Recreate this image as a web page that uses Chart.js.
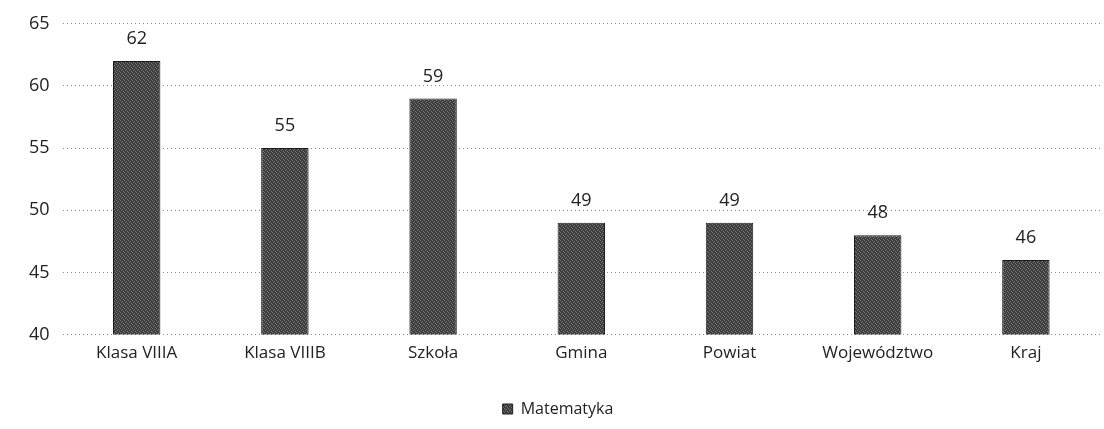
<!DOCTYPE html>
<html>
<head>
<meta charset="utf-8">
<script src="https://cdn.jsdelivr.net/npm/chart.js@4.4.1/dist/chart.umd.min.js"></script>
<style>
  html, body { margin: 0; padding: 0; background: #fff; }
  #wrap { width: 1104px; height: 429px; }
</style>
</head>
<body>
<div id="wrap"><canvas id="chart"></canvas></div>
<script>
// data
const categories = ['Klasa VIIIA', 'Klasa VIIIB', 'Szkoła', 'Gmina', 'Powiat', 'Województwo', 'Kraj'];
const matematyka = [62, 55, 59, 49, 49, 48, 46];
const seriesName = 'Matematyka';

const FONT = '"Open Sans", sans-serif';

//small hatched tile so the bars look like the printed grey fill
function barPattern() {
    const c = document.createElement('canvas');
    c.width = 4;
    c.height = 4;
    const p = c.getContext('2d');
    p.fillStyle = '#3c3c3c';
    p.fillRect(0, 0, 4, 4);
    p.fillStyle = '#7a7a7a';
    p.fillRect(0, 0, 1, 1);
    p.fillRect(2, 1, 1, 1);
    p.fillRect(1, 2, 1, 1);
    p.fillRect(3, 3, 1, 1);
    return p.createPattern(c, 'repeat');
}

//writes the value above each bar
const valueLabels = {
    id: 'valueLabels',
    afterDatasetsDraw(chart) {
        const ctx = chart.ctx;
        ctx.save();
        ctx.font = '18px ' + FONT;
        ctx.fillStyle = '#222';
        ctx.textAlign = 'center';
        ctx.textBaseline = 'bottom';
        chart.getDatasetMeta(0).data.forEach((bar, i) => {
            ctx.fillText(matematyka[i], bar.x, bar.y - 13);
        });
        ctx.restore();
    }
};

const ctx = document.querySelector('#chart').getContext('2d');
const chart = new Chart(ctx, {
    type: 'bar',
    data: {
        labels: categories,
        datasets: [{
            label: seriesName,
            data: matematyka,
            backgroundColor: barPattern(),
            borderColor: '#1e1e1e',
            borderWidth: 1,
            barPercentage: 0.32,
            categoryPercentage: 1
        }]
    },
    options: {
        responsive: true,
        maintainAspectRatio: false,
        animation: false,
        layout: { padding: { left: 16, right: 4, top: 12, bottom: 2 } },
        scales: {
            x: {
                grid: { display: false },
                border: { display: false },
                ticks: { color: '#222', font: { family: FONT, size: 17 }, padding: 0 },
                afterFit(scale) { scale.height += 16; }
            },
            y: {
                min: 40,
                max: 65,
                ticks: { stepSize: 5, color: '#222', font: { family: FONT, size: 18 }, padding: 13 },
                border: { display: false, dash: [1, 3] },
                grid: { color: '#8a8a8a', drawTicks: false }
            }
        },
        plugins: {
            legend: {
                position: 'bottom',
                labels: {
                    color: '#222',
                    font: { family: FONT, size: 16 },
                    boxWidth: 10,
                    boxHeight: 10,
                    padding: 22
                }
            },
            tooltip: { enabled: false }
        }
    },
    plugins: [valueLabels]
});
</script>
</body>
</html>
